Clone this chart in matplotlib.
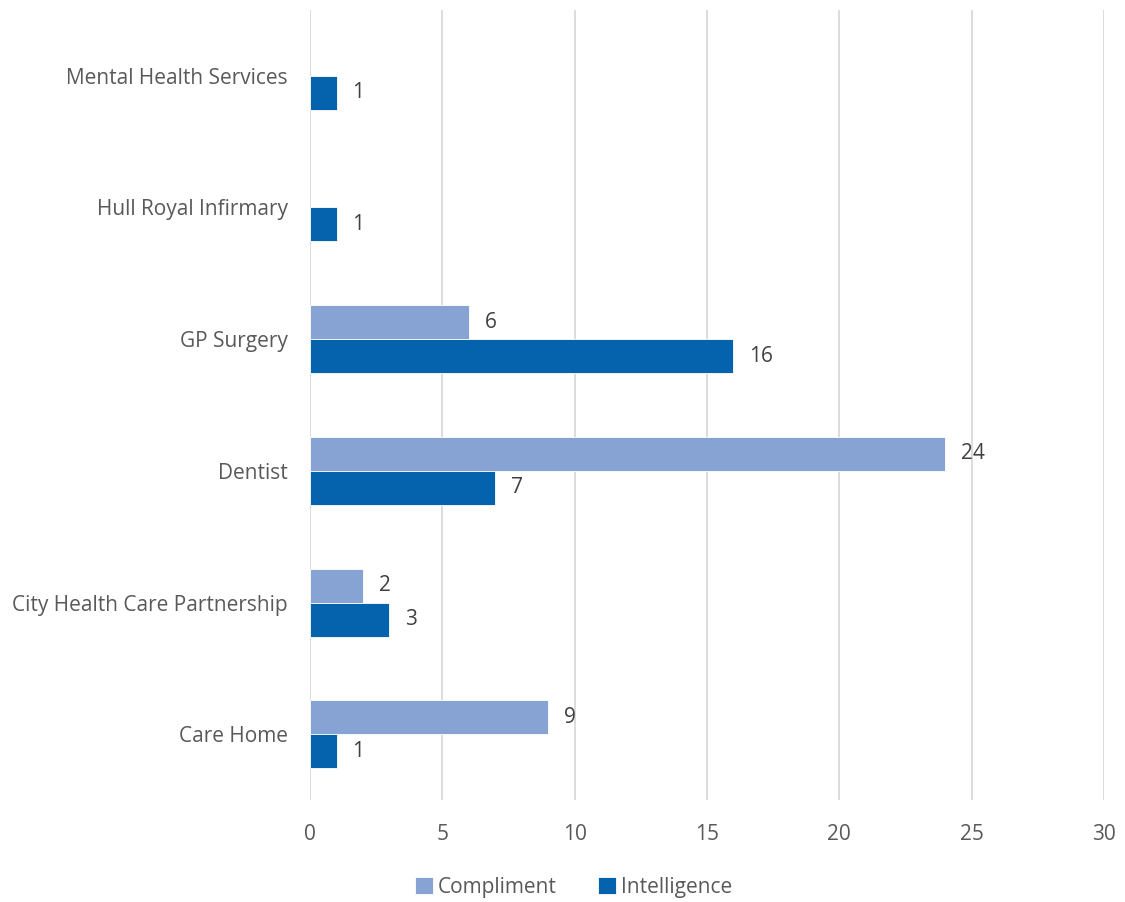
import matplotlib
matplotlib.use("Agg")
import matplotlib.pyplot as plt
import numpy as np

plt.rcParams['font.family'] = ['Open Sans', 'DejaVu Sans']

categories = ["Care Home", "City Health Care Partnership", "Dentist",
              "GP Surgery", "Hull Royal Infirmary", "Mental Health Services"]
compliment = [9, 2, 24, 6, 0, 0]
intelligence = [1, 3, 7, 16, 1, 1]

light = "#87A3D3"
dark = "#0562AD"
grey = "#595959"
fs = 15

fig = plt.figure(figsize=(11.25, 9.02), dpi=100)
ax = fig.add_axes([0.2756, 0.113, 0.7057, 0.876])

y = np.arange(len(categories))
h = 0.258
comp = np.array(compliment, dtype=float)
intel = np.array(intelligence, dtype=float)
# zero values get no bar at all
cm = comp > 0
im = intel > 0
ax.barh(y[cm] + h / 2, comp[cm], height=h, color=light, edgecolor="white",
        linewidth=0.6, label="Compliment", zorder=3)
ax.barh(y[im] - h / 2, intel[im], height=h, color=dark, edgecolor="white",
        linewidth=0.6, label="Intelligence", zorder=3)

for i in range(len(categories)):
    if compliment[i] > 0:
        ax.text(compliment[i] + 0.6, y[i] + h / 2, str(compliment[i]),
                va="center", ha="left", fontsize=fs, color="#404040")
    if intelligence[i] > 0:
        ax.text(intelligence[i] + 0.6, y[i] - h / 2, str(intelligence[i]),
                va="center", ha="left", fontsize=fs, color="#404040")

ax.set_xlim(0, 30)
ax.set_ylim(-0.5, len(categories) - 0.5)
ax.set_xticks(np.arange(0, 31, 5))
ax.set_yticks(y)
ax.set_yticklabels(categories)
ax.tick_params(axis="both", length=0, labelsize=fs, labelcolor=grey)
ax.tick_params(axis="y", pad=16)
ax.tick_params(axis="x", pad=17)
ax.grid(axis="x", color="#D9D9D9", linewidth=1.3, zorder=0)
for s in ax.spines.values():
    s.set_visible(False)

leg = fig.legend(loc="lower center", bbox_to_anchor=(0.51, -0.016), ncol=2,
                 frameon=False, fontsize=fs, handlelength=0.85, handleheight=0.85,
                 handletextpad=0.25, columnspacing=2.0)
for t in leg.get_texts():
    t.set_color(grey)

fig.savefig("out.png", dpi=100)
